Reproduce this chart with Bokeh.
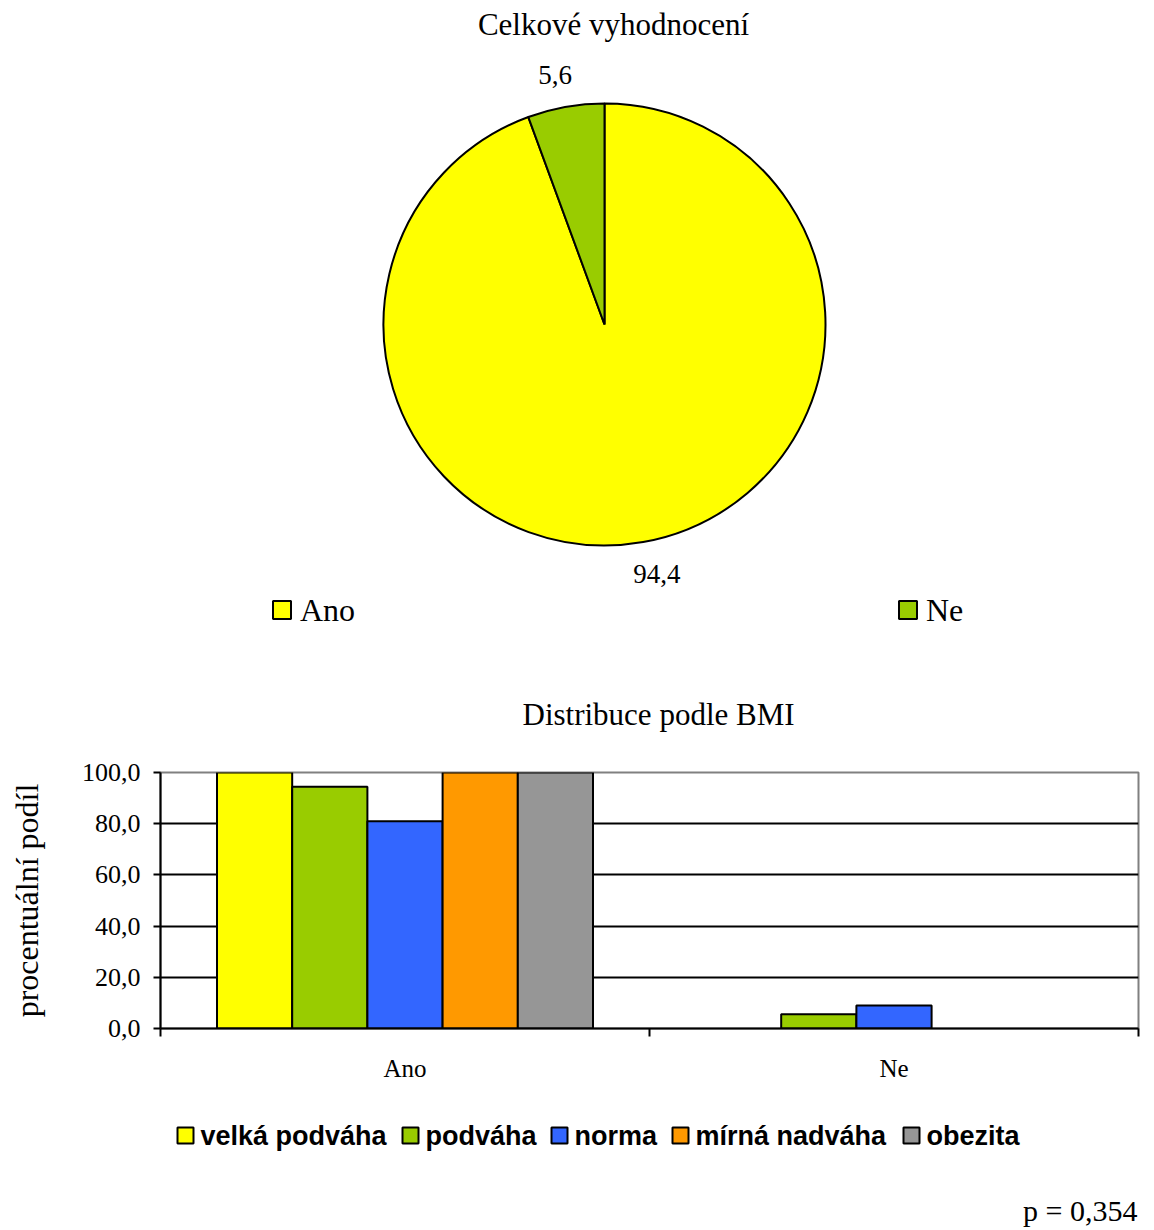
import math
from bokeh.plotting import figure
from bokeh.layouts import column
from bokeh.models import ColumnDataSource, Range1d, FixedTicker, CustomJSTickFormatter
from bokeh.core.properties import value
from bokeh.embed import file_html
from bokeh.resources import INLINE

# ---------------- data ----------------
pie_title = "Celkové vyhodnocení"
pie_categories = ["Ano", "Ne"]
pie_values = [94.4, 5.6]
pie_colors = ["#FFFF00", "#99CC00"]

bar_title = "Distribuce podle BMI"
bar_categories = ["Ano", "Ne"]
series_names = ["velká podváha", "podváha", "norma", "mírná nadváha", "obezita"]
series_colors = ["#FFFF00", "#99CC00", "#3366FF", "#FF9900", "#969696"]
velka_podvaha = [100.0, 0.0]
podvaha = [94.4, 5.6]
norma = [81.0, 9.0]
mirna_nadvaha = [100.0, 0.0]
obezita = [100.0, 0.0]
series_values = [velka_podvaha, podvaha, norma, mirna_nadvaha, obezita]
y_ticks = [0, 20, 40, 60, 80, 100]
y_label = "procentuální podíl"
p_text = "p = 0,354"

SERIF = "Liberation Serif"
SANS = "Liberation Sans"

W = 1154
BL, BR = 160, 16           # common left/right borders -> frame spans page x 160..1138
FX0, FX1 = BL, W - BR


def blank(height):
    f = figure(width=W, height=height, x_range=Range1d(FX0, FX1), y_range=Range1d(0, height),
               x_axis_type=None, y_axis_type=None, toolbar_location=None,
               output_backend="svg", min_border_left=BL, min_border_right=BR,
               min_border_top=0, min_border_bottom=0)
    f.outline_line_color = None
    f.grid.visible = False
    return f


# ---------------- pie ----------------
H1 = 640
p1 = blank(H1)

cx, cy, r = 604, H1 - 324, 221
total = sum(pie_values)
tmp = {}
ang = math.pi / 2
for i in reversed(range(len(pie_values))):      # Ne starts at 12 o'clock, counter-clockwise
    a1 = ang + 2 * math.pi * pie_values[i] / total
    tmp[i] = (ang, a1)
    ang = a1
starts = [tmp[i][0] for i in range(len(pie_values))]
ends = [tmp[i][1] for i in range(len(pie_values))]
mids = [(a + b) / 2 for a, b in zip(starts, ends)]

src = ColumnDataSource(dict(x=[cx] * len(pie_values), y=[cy] * len(pie_values),
                            s=starts, e=ends, c=pie_colors))
p1.wedge(x="x", y="y", radius=r, start_angle="s", end_angle="e", fill_color="c",
         line_color="black", line_width=2, source=src)

lr = 253
lab_src = ColumnDataSource(dict(
    x=[cx + lr * math.cos(m) + (8 if math.cos(m) > 0 else -5) for m in mids],
    y=[cy + lr * math.sin(m) for m in mids],
    t=[f"{v:.1f}".replace(".", ",") for v in pie_values]))
p1.text(x="x", y="y", text="t", source=lab_src, text_font=value(SERIF),
        text_font_size="27px", text_align="center", text_baseline="middle", text_color="black")

p1.text(x=[613], y=[H1 - 24], text=[pie_title], text_font=value(SERIF), text_font_size="31px",
        text_align="center", text_baseline="middle", text_color="black")

leg_x = [281.5, 907.5]
leg_y = H1 - 609.5
p1.rect(x=leg_x, y=[leg_y] * 2, width=18, height=18, fill_color=pie_colors,
        line_color="black", line_width=2)
p1.text(x=[lx + 18 for lx in leg_x], y=[leg_y] * 2, text=pie_categories, text_font=value(SERIF),
        text_font_size="32px", text_align="left", text_baseline="middle", text_color="black")

# ---------------- bars ----------------
H2 = 460
p2 = figure(width=W, height=H2, x_range=Range1d(0, 2), y_range=Range1d(0, 100),
            toolbar_location=None, output_backend="svg", title=bar_title,
            min_border_left=BL, min_border_right=BR, min_border_top=132, min_border_bottom=72)
p2.title.text_font = SERIF
p2.title.text_font_size = "31px"
p2.title.text_font_style = "normal"
p2.title.text_color = "black"
p2.title.align = "left"
p2.title.offset = 362
p2.title.standoff = 82

p2.outline_line_color = "#808080"
p2.outline_line_width = 2
p2.xgrid.visible = False
p2.ygrid.ticker = FixedTicker(ticks=[20, 40, 60, 80])
p2.ygrid.grid_line_color = "black"
p2.ygrid.grid_line_width = 2

bw = 0.1538
for k, vals in enumerate(series_values):
    xs = [j + 0.5 + (k - 2) * bw for j, v in enumerate(vals) if v > 0]
    ys = [v for v in vals if v > 0]
    p2.vbar(x=xs, top=ys, bottom=0, width=bw, fill_color=series_colors[k],
            line_color="black", line_width=2)

yax = p2.yaxis[0]
yax.ticker = FixedTicker(ticks=y_ticks)
yax.formatter = CustomJSTickFormatter(code="return tick.toFixed(1).replace('.', ',');")
yax.major_label_text_font = SERIF
yax.major_label_text_font_size = "26px"
yax.major_label_text_color = "black"
yax.major_tick_in = 0
yax.major_tick_out = 7
yax.major_tick_line_width = 2
yax.major_tick_line_color = "black"
yax.minor_tick_line_color = None
yax.axis_line_color = "black"
yax.axis_line_width = 2
yax.major_label_standoff = 13
yax.axis_label = y_label
yax.axis_label_text_font = SERIF
yax.axis_label_text_font_size = "32px"
yax.axis_label_text_font_style = "normal"
yax.axis_label_text_color = "black"
yax.axis_label_standoff = 34

xax = p2.xaxis[0]
xax.ticker = FixedTicker(ticks=[0.5, 1.5], minor_ticks=[0, 1, 2])
xax.formatter = CustomJSTickFormatter(args=dict(cats=bar_categories),
                                      code="return cats[Math.floor(tick)];")
xax.major_label_text_font = SERIF
xax.major_label_text_font_size = "25px"
xax.major_label_text_color = "black"
xax.major_tick_in = 0
xax.major_tick_out = 0
xax.major_tick_line_color = None
xax.minor_tick_in = 0
xax.minor_tick_out = 8
xax.minor_tick_line_width = 2
xax.minor_tick_line_color = "black"
xax.axis_line_color = "black"
xax.axis_line_width = 2
xax.major_label_standoff = 18

# ---------------- legend + p value ----------------
H3 = 130
p3 = blank(H3)
sq_left = [177, 402, 551, 672, 903]
sq = 16
ly = H3 - 35
p3.rect(x=[s + sq / 2 for s in sq_left], y=[ly] * 5, width=sq, height=sq,
        fill_color=series_colors, line_color="black", line_width=2)
p3.text(x=[s + sq + 7 for s in sq_left], y=[ly] * 5, text=series_names, text_font=value(SANS),
        text_font_style="bold", text_font_size="27px", text_align="left",
        text_baseline="middle", text_color="black")
p3.text(x=[FX1 - 1], y=[H3 - 110], text=[p_text], text_font=value(SERIF), text_font_size="30px",
        text_align="right", text_baseline="middle", text_color="black")

layout = column(p1, p2, p3, spacing=0)
open("out.html", "w").write(file_html(layout, INLINE))
